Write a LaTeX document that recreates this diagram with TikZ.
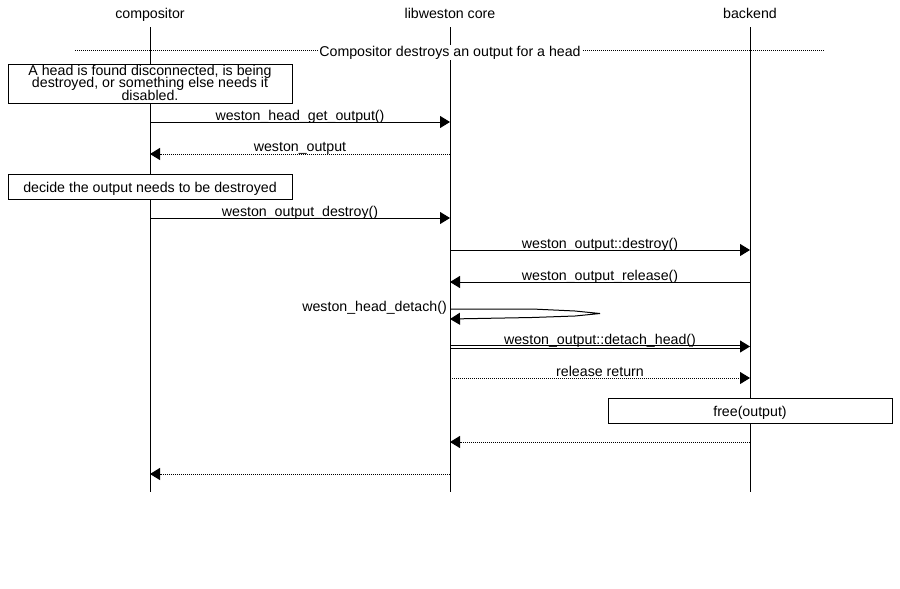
\documentclass[tikz,border=0pt]{standalone}
\usepackage{fontspec}
\setmainfont{Liberation Sans}
\usetikzlibrary{arrows.meta}
\newcommand{\mscfont}{\fontsize{14.2}{12.8}\selectfont\lineskiplimit-20pt\relax}

\begin{document}
\begin{tikzpicture}[
    x=1pt, y=-1pt,
    every node/.style={font=\mscfont},
    entity/.style={anchor=base, inner sep=0pt},
    lifeline/.style={line width=1pt},
    msg/.style={-{Triangle[length=10pt,width=12pt]}, line width=1pt},
    reply/.style={msg, dash pattern=on 1pt off 1pt},
    note/.style={draw, fill=white, line width=1pt, minimum width=284pt, inner sep=0pt},
    onenote/.style={note, text height=18pt, text depth=7pt},
    msglabel/.style={anchor=base, inner sep=0pt}
]
    \useasboundingbox (0,0) rectangle (900,589);

    % Entities and lifelines
    \node[entity] (comp) at (150,18.5) {compositor};
    \node[entity] (core) at (450,18.5) {libweston core};
    \node[entity] (back) at (750,18.5) {backend};
    \foreach \e in {comp, core, back}
        \draw[lifeline] (\e |- 0,27) -- (\e |- 0,492);

    % Separator
    \draw[line width=1pt, dash pattern=on 1pt off 1pt] (75,50) -- (825,50);
    \node[fill=white, inner sep=1pt, anchor=base] (sep) at (450,56) {Compositor destroys an output for a head};

    % Compositor side
    \node[note, minimum height=39pt] (disc) at (150,83.5) {};
    \node[anchor=north, align=center, inner sep=0pt] (disctext) at (150,64.6) {A head is found disconnected, is being\\destroyed, or something else needs it\\disabled.};
    \draw[msg] (comp |- 0,122) -- (core |- 0,122);
    \node[msglabel] (getout) at (300,120) {weston\_head\_get\_output()};
    \draw[reply] (core |- 0,154) -- (comp |- 0,154);
    \node[msglabel] (output) at (300,151.5) {weston\_output};
    \node[onenote] (decide) at (150,186.5) {decide the output needs to be destroyed};
    \draw[msg] (comp |- 0,218) -- (core |- 0,218);
    \node[msglabel] (destroy) at (300,216) {weston\_output\_destroy()};

    % Core and backend
    \draw[msg] (core |- 0,250) -- (back |- 0,250);
    \node[msglabel] (bdestroy) at (600,248) {weston\_output::destroy()};
    \draw[msg] (back |- 0,282) -- (core |- 0,282);
    \node[msglabel] (release) at (600,280) {weston\_output\_release()};

    % Self call
    \draw[msg] (core |- 0,309) -- (532,309) -- (575,311) -- (600,313.5)
        -- (575,316) -- (532,317.5) -- (core |- 0,319);
    \node[msglabel, anchor=base east] (detach) at (447,311) {weston\_head\_detach()};

    % Method call (double line)
    \draw[line width=1pt] (core |- 0,345) -- (742,345);
    \draw[line width=1pt] (core |- 0,348) -- (742,348);
    \draw[msg] (740,346.5) -- (back |- 0,346.5);
    \node[msglabel] (dhead) at (600,344) {weston\_output::detach\_head()};

    \draw[reply] (core |- 0,378) -- (back |- 0,378);
    \node[msglabel] (relret) at (600,376) {release return};
    \node[onenote] (free) at (750,410.5) {free(output)};
    \draw[reply] (back |- 0,442) -- (core |- 0,442);
    \draw[reply] (core |- 0,474) -- (comp |- 0,474);
\end{tikzpicture}
\end{document}
